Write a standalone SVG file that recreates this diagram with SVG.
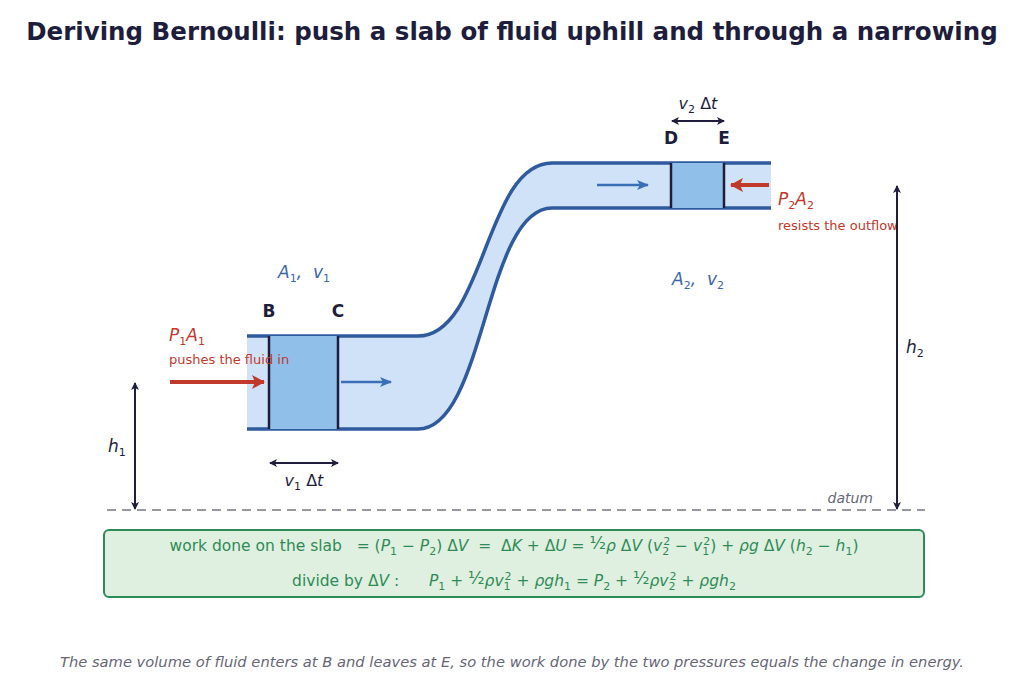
<svg xmlns="http://www.w3.org/2000/svg" width="1024" height="691" viewBox="0 0 1024 691">
<style>
text{font-family:"DejaVu Sans",sans-serif}
.m{font-style:italic}
.s{font-style:normal;font-size:11px}
.lbl{font-size:17px;font-weight:bold;fill:#1e1e3c}
.blue{fill:#3a66a8;font-size:17px}
.red{fill:#c0392b}
.dark{fill:#1e1e3c}
.grn{fill:#2e8b57;font-size:15.5px}
.wall{stroke:#2f5b9e;stroke-width:3.5;fill:none}
.face{stroke:#1e1e3c;stroke-width:2.5}
</style>
<defs>
<marker id="ad" markerWidth="8" markerHeight="8" refX="7" refY="4" orient="auto-start-reverse" markerUnits="userSpaceOnUse"><path d="M0,0 L8,4 L0,8 L2,4z" fill="#1e1e3c"/></marker>
<marker id="ab" markerWidth="12" markerHeight="10" refX="11" refY="5" orient="auto" markerUnits="userSpaceOnUse"><path d="M0,0 L12,5 L0,10 L3,5z" fill="#3a6fb8"/></marker>
<marker id="ar" markerWidth="14" markerHeight="14" refX="12" refY="7" orient="auto" markerUnits="userSpaceOnUse"><path d="M0,0 L13,7 L0,14 L3,7z" fill="#c0392b"/></marker>
</defs>
<rect width="1024" height="691" fill="#fff"/>
<text x="512" y="40" text-anchor="middle" font-size="24.5" font-weight="bold" fill="#1e1e3c">Deriving Bernoulli: push a slab of fluid uphill and through a narrowing</text>

<g id="pipe">
<path d="M247,336 L418,336 C485,336 485,163 552,163 L771,163 L771,208 L552,208 C485,208 485,429 418,429 L247,429 Z" fill="#d0e2f7"/>
<path class="wall" d="M247,336 L418,336 C485,336 485,163 552,163 L771,163"/>
<path class="wall" d="M247,429 L418,429 C485,429 485,208 552,208 L771,208"/>
</g>
<g id="slab1">
<rect x="269" y="336" width="69" height="93" fill="#90bfea"/>
<line class="face" x1="269" y1="336" x2="269" y2="429"/>
<line class="face" x1="338" y1="336" x2="338" y2="429"/>
<text class="lbl" x="269" y="317" text-anchor="middle">B</text>
<text class="lbl" x="338" y="317" text-anchor="middle">C</text>
</g>
<g id="slab2">
<rect x="671" y="163" width="53" height="45" fill="#90bfea"/>
<line class="face" x1="671" y1="163" x2="671" y2="208"/>
<line class="face" x1="724" y1="163" x2="724" y2="208"/>
<text class="lbl" x="671" y="144" text-anchor="middle">D</text>
<text class="lbl" x="724" y="144" text-anchor="middle">E</text>
</g>
<g id="labels">
<text class="blue m" x="304" y="278" text-anchor="middle" xml:space="preserve">A<tspan class="s" font-size="12" dy="4">1</tspan><tspan dy="-4">,  v</tspan><tspan class="s" dy="4">1</tspan></text>
<text class="blue m" x="698" y="285" text-anchor="middle" xml:space="preserve">A<tspan class="s" dy="4">2</tspan><tspan dy="-4">,  v</tspan><tspan class="s" dy="4">2</tspan></text>
<text class="red m" x="169" y="341" font-size="17">P<tspan class="s" dy="4">1</tspan><tspan dy="-4">A</tspan><tspan class="s" dy="4">1</tspan></text>
<text class="red" x="169" y="364" font-size="13">pushes the fluid in</text>
<text class="red m" x="778" y="205" font-size="17">P<tspan class="s" dy="4">2</tspan><tspan dy="-4">A</tspan><tspan class="s" dy="4">2</tspan></text>
<text class="red" x="778" y="230" font-size="13">resists the outflow</text>
<text class="dark m" x="304" y="486" text-anchor="middle" font-size="16">v<tspan class="s" dy="4">1</tspan><tspan dy="-4" font-style="normal"> Δ</tspan>t</text>
<text class="dark m" x="698" y="109" text-anchor="middle" font-size="16">v<tspan class="s" dy="4">2</tspan><tspan dy="-4" font-style="normal"> Δ</tspan>t</text>
<text class="dark m" x="108" y="452" font-size="17">h<tspan class="s" dy="4">1</tspan></text>
<text class="dark m" x="906" y="353" font-size="17">h<tspan class="s" dy="4">2</tspan></text>
<text x="873" y="503" text-anchor="end" font-size="14" font-style="italic" fill="#666677">datum</text>
</g>
<g id="connectors">
<line x1="107" y1="510" x2="925" y2="510" stroke="#777788" stroke-width="1.5" stroke-dasharray="9,6"/>
<line x1="170" y1="382" x2="264" y2="382" stroke="#c0392b" stroke-width="4" marker-end="url(#ar)"/>
<line x1="769" y1="185" x2="731" y2="185" stroke="#c0392b" stroke-width="4" marker-end="url(#ar)"/>
<line x1="341" y1="382" x2="391" y2="382" stroke="#3a6fb8" stroke-width="2.5" marker-end="url(#ab)"/>
<line x1="597" y1="185" x2="648" y2="185" stroke="#3a6fb8" stroke-width="2.5" marker-end="url(#ab)"/>
<line x1="270" y1="463" x2="338" y2="463" stroke="#1e1e3c" stroke-width="2" marker-start="url(#ad)" marker-end="url(#ad)"/>
<line x1="672" y1="121" x2="724" y2="121" stroke="#1e1e3c" stroke-width="2" marker-start="url(#ad)" marker-end="url(#ad)"/>
<line x1="135" y1="509" x2="135" y2="383" stroke="#1e1e3c" stroke-width="2" marker-start="url(#ad)" marker-end="url(#ad)"/>
<line x1="897" y1="509" x2="897" y2="186" stroke="#1e1e3c" stroke-width="2" marker-start="url(#ad)" marker-end="url(#ad)"/>
</g>
<g id="equation">
<rect x="104" y="530" width="820" height="67" rx="5" fill="#e0f0e0" stroke="#2e8b57" stroke-width="2"/>
<text class="grn" x="514" y="551" text-anchor="middle" xml:space="preserve">work done on the slab   = (<tspan class="m">P</tspan><tspan class="s" dy="4">1</tspan><tspan dy="-4"> − </tspan><tspan class="m">P</tspan><tspan class="s" dy="4">2</tspan><tspan dy="-4">) Δ</tspan><tspan class="m">V</tspan>  =  Δ<tspan class="m">K</tspan> + Δ<tspan class="m">U</tspan> = <tspan font-size="17" dy="-2">½</tspan><tspan dy="2" class="m">ρ</tspan> Δ<tspan class="m">V</tspan> (<tspan class="m">v</tspan><tspan class="s" dy="4">2</tspan><tspan class="s" dy="-10" dx="-6">2</tspan><tspan dy="6"> − </tspan><tspan class="m">v</tspan><tspan class="s" dy="4">1</tspan><tspan class="s" dy="-10" dx="-6">2</tspan><tspan dy="6">) + </tspan><tspan class="m">ρg</tspan> Δ<tspan class="m">V</tspan> (<tspan class="m">h</tspan><tspan class="s" dy="4">2</tspan><tspan dy="-4"> − </tspan><tspan class="m">h</tspan><tspan class="s" dy="4">1</tspan><tspan dy="-4">)</tspan></text>
<text class="grn" x="514" y="586" text-anchor="middle" xml:space="preserve">divide by Δ<tspan class="m">V</tspan> :      <tspan class="m">P</tspan><tspan class="s" dy="4">1</tspan><tspan dy="-4"> + </tspan><tspan font-size="17" dy="-2">½</tspan><tspan dy="2" class="m">ρv</tspan><tspan class="s" dy="4">1</tspan><tspan class="s" dy="-10" dx="-6">2</tspan><tspan dy="6"> + </tspan><tspan class="m">ρgh</tspan><tspan class="s" dy="4">1</tspan><tspan dy="-4"> = </tspan><tspan class="m">P</tspan><tspan class="s" dy="4">2</tspan><tspan dy="-4"> + </tspan><tspan font-size="17" dy="-2">½</tspan><tspan dy="2" class="m">ρv</tspan><tspan class="s" dy="4">2</tspan><tspan class="s" dy="-10" dx="-6">2</tspan><tspan dy="6"> + </tspan><tspan class="m">ρgh</tspan><tspan class="s" dy="4">2</tspan></text>
</g>
<text x="512" y="667" text-anchor="middle" font-size="14.7" font-style="italic" fill="#666677">The same volume of fluid enters at B and leaves at E, so the work done by the two pressures equals the change in energy.</text>
</svg>
